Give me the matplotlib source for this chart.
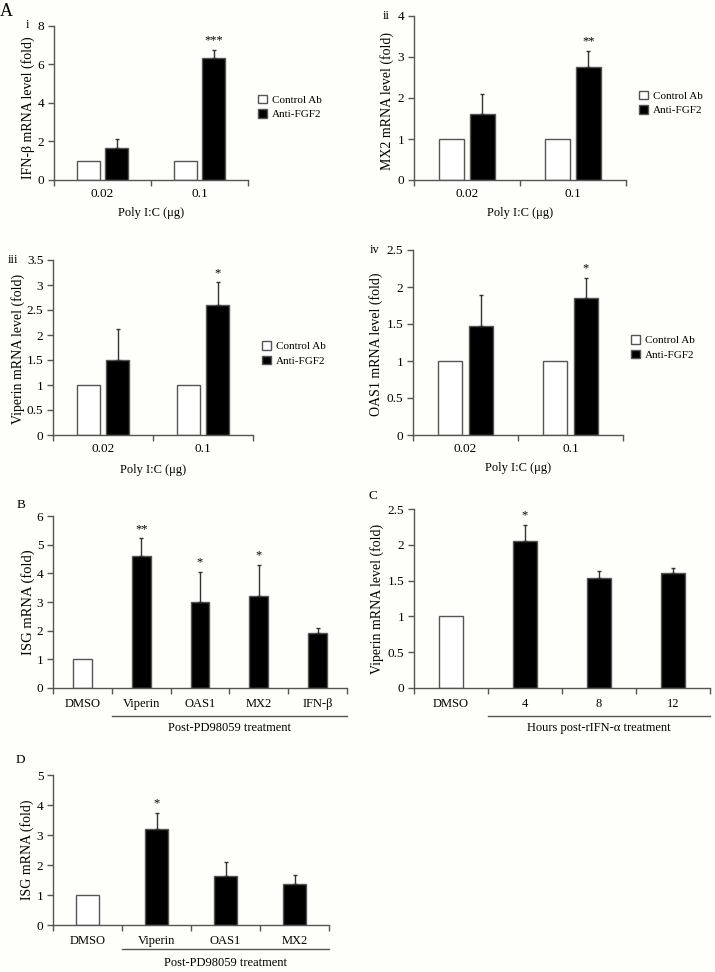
import matplotlib
matplotlib.use("Agg")
import matplotlib.pyplot as plt
import numpy as np

plt.rcParams['font.family'] = ['Liberation Serif', 'DejaVu Serif']
plt.rcParams['font.size'] = 8.5

W, H = 715, 972
BG = '#fefefa'
AXC = '#555555'

# panel A: poly I:C dose, control Ab vs anti-FGF2
poly_cats = ['0.02', '0.1']
ifnb_ctrl = [1, 1]
ifnb_anti = [1.68, 6.35]
ifnb_err = [0.47, 0.42]
ifnb_sig = ['', '***']

mx2_ctrl = [1, 1]
mx2_anti = [1.62, 2.75]
mx2_err = [0.48, 0.40]
mx2_sig = ['', '**']

vip_ctrl = [1, 1]
vip_anti = [1.50, 2.60]
vip_err = [0.62, 0.45]
vip_sig = ['', '*']

oas_ctrl = [1, 1]
oas_anti = [1.47, 1.85]
oas_err = [0.42, 0.27]
oas_sig = ['', '*']

# panel B
b_cats = ['DMSO', 'Viperin', 'OAS1', 'MX2', 'IFN-β']
b_vals = [1, 4.60, 3.00, 3.20, 1.93]
b_err = [0, 0.62, 1.05, 1.10, 0.15]
b_sig = ['', '**', '*', '*', '']

# panel C
c_cats = ['DMSO', '4', '8', '12']
c_vals = [1, 2.05, 1.53, 1.60]
c_err = [0, 0.23, 0.11, 0.08]
c_sig = ['', '*', '', '']

# panel D
d_cats = ['DMSO', 'Viperin', 'OAS1', 'MX2']
d_vals = [1, 3.20, 1.62, 1.38]
d_err = [0, 0.55, 0.48, 0.28]
d_sig = ['', '*', '', '']


def px_axes(fig, left, top, right, bottom):
    return fig.add_axes([left / W, 1 - bottom / H, (right - left) / W, (bottom - top) / H])


def style_axes(ax, ncat, cats, ymax, ystep, pad, xfs):
    ax.set_facecolor(BG)
    for s in ['top', 'right']:
        ax.spines[s].set_visible(False)
    for s in ['left', 'bottom']:
        ax.spines[s].set_color(AXC)
        ax.spines[s].set_linewidth(1)
    ax.set_xlim(0, ncat)
    ax.set_ylim(0, ymax)
    ticks = np.arange(0, ymax + ystep / 2, ystep)
    ax.set_yticks(ticks, ['{:g}'.format(t) for t in ticks], fontsize=9.5)
    ax.set_xticks(np.arange(ncat + 1), [''] * (ncat + 1))
    ax.set_xticks(np.arange(ncat) + 0.5, cats, minor=True, fontsize=xfs)
    ax.tick_params(which='major', direction='out', length=4, color=AXC, width=1)
    ax.tick_params(axis='y', pad=3)
    ax.tick_params(axis='x', which='minor', length=0, pad=pad)


def errs(ax, x, vals, err, sig, ymax):
    for xi, v, e, s in zip(x, vals, err, sig):
        if e > 0:
            ax.errorbar(xi, v, yerr=[[0], [e]], fmt='none', ecolor='#333333',
                        elinewidth=1, capsize=1.5, capthick=1)
        if s:
            ax.text(xi, v + e + ymax * 0.02, s, ha='center', va='bottom', fontsize=9)


def grouped(fig, box, ctrl, anti, err, sig, ymax, ystep, ylabel, ylab_x, ylab_y,
            xlab_y, leg_xy, pad):
    ax = px_axes(fig, *box)
    style_axes(ax, 2, poly_cats, ymax, ystep, pad, 9.5)
    c = np.arange(2) + 0.5
    b1 = ax.bar(c - 0.145, ctrl, 0.23, color='white', edgecolor=AXC, linewidth=1, label='Control Ab')
    b2 = ax.bar(c + 0.145, anti, 0.23, color='black', edgecolor=AXC, linewidth=1, label='Anti-FGF2')
    errs(ax, c + 0.145, anti, err, sig, ymax)
    ax.text(ylab_x, ylab_y, ylabel, rotation=90, ha='center', va='center',
            transform=ax.transAxes, fontsize=10)
    ax.text(0.5, xlab_y, 'Poly I:C (μg)', ha='center', va='center',
            transform=ax.transAxes, fontsize=9)
    ax.legend(handles=[b1, b2], loc='center left', bbox_to_anchor=leg_xy, frameon=False,
              borderpad=0, borderaxespad=0, handlelength=0.8, handleheight=0.8,
              handletextpad=0.45, labelspacing=0.4, fontsize=8)
    return ax


def single(fig, box, cats, vals, err, sig, ymax, ystep, ylabel, ylab_x, pad, yfs):
    ax = px_axes(fig, *box)
    n = len(cats)
    style_axes(ax, n, cats, ymax, ystep, pad, 9)
    c = np.arange(n) + 0.5
    cols = ['white'] + ['black'] * (n - 1)
    ax.bar(c, vals, 0.32, color=cols, edgecolor=AXC, linewidth=1)
    errs(ax, c, vals, err, sig, ymax)
    ax.text(ylab_x, 0.5, ylabel, rotation=90, ha='center', va='center',
            transform=ax.transAxes, fontsize=yfs)
    return ax


def underline(ax, x0, x1, y_line, y_text, text):
    tr = ax.get_xaxis_transform()
    ax.plot([x0, x1], [y_line, y_line], color=AXC, lw=1, transform=tr, clip_on=False)
    ax.text((x0 + x1) / 2, y_text, text, ha='center', va='center', transform=tr, fontsize=9)


fig = plt.figure(figsize=(W / 100, H / 100), dpi=100, facecolor=BG)

grouped(fig, (54, 26, 248, 180), ifnb_ctrl, ifnb_anti, ifnb_err, ifnb_sig, 8, 2,
        'IFN-β mRNA level (fold)', -0.134, 0.47, -0.214, (1.05, 0.474), 6)
grouped(fig, (414, 16, 626, 180), mx2_ctrl, mx2_anti, mx2_err, mx2_sig, 4, 1,
        'MX2 mRNA level (fold)', -0.127, 0.48, -0.2, (1.06, 0.47), 6)
grouped(fig, (53, 260, 253, 435), vip_ctrl, vip_anti, vip_err, vip_sig, 3.5, 0.5,
        'Viperin mRNA level (fold)', -0.175, 0.49, -0.2, (1.045, 0.466), 6)
grouped(fig, (413, 250, 623, 435), oas_ctrl, oas_anti, oas_err, oas_sig, 2.5, 0.5,
        'OAS1 mRNA level (fold)', -0.176, 0.49, -0.178, (1.04, 0.473), 6)

axb = single(fig, (53, 516, 347, 688), b_cats, b_vals, b_err, b_sig, 6, 1,
             'ISG mRNA (fold)', -0.085, 7, 10.5)
underline(axb, 1, 5, -0.163, -0.233, 'Post-PD98059 treatment')

axc = single(fig, (414, 509, 710, 688), c_cats, c_vals, c_err, c_sig, 2.5, 0.5,
             'Viperin mRNA level (fold)', -0.125, 7, 10)
underline(axc, 1, 4, -0.156, -0.223, 'Hours post-rIFN-α treatment')

axd = single(fig, (53, 775, 329, 925), d_cats, d_vals, d_err, d_sig, 5, 1,
             'ISG mRNA (fold)', -0.094, 7, 10)
underline(axd, 1, 4, -0.16, -0.253, 'Post-PD98059 treatment')

for t, x, y, fs in [('A', 6, 12, 13), ('i', 27, 25, 9), ('ii', 386, 16, 9),
                    ('iii', 13, 260, 9), ('iv', 375, 250, 9),
                    ('B', 21, 505, 9.5), ('C', 373, 496, 9.5), ('D', 20, 760, 9.5)]:
    fig.text(x / W, 1 - y / H, t, ha='center', va='center', fontsize=fs)

fig.savefig('out.png', dpi=100, facecolor=BG)
